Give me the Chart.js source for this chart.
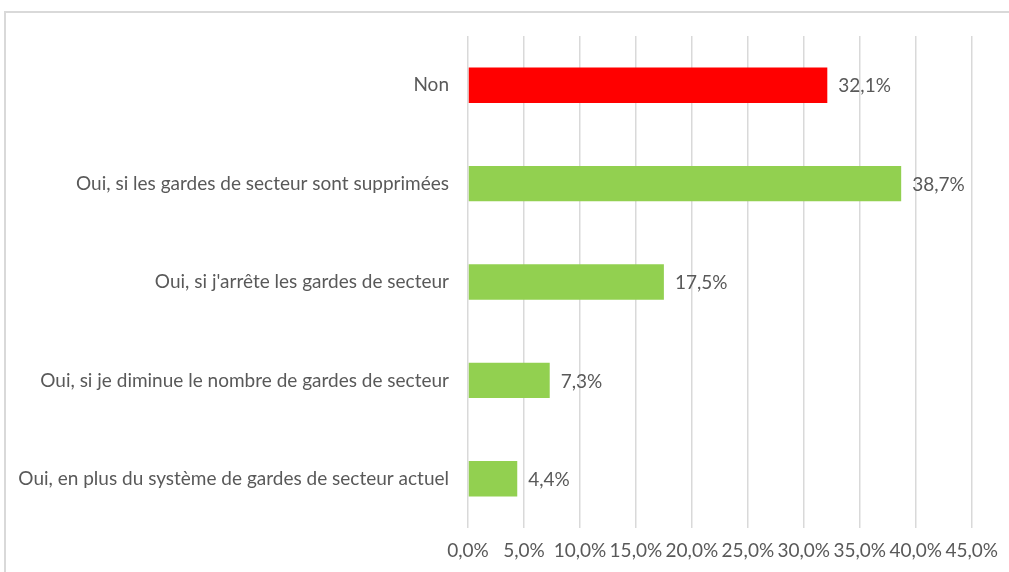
<!DOCTYPE html>
<html>
<head>
<meta charset="utf-8">
<script src="https://cdn.jsdelivr.net/npm/chart.js@4"></script>
<style>
html,body{margin:0;padding:0;background:#fff;}
#wrap{position:relative;width:1009px;height:572px;overflow:hidden;}
#box{position:absolute;left:4px;top:11px;width:1020px;height:600px;border:2px solid #d9d9d9;box-sizing:border-box;}
canvas{position:absolute;left:0;top:0;}
</style>
</head>
<body>
<div id="wrap">
<div id="box"></div>
<canvas id="c" width="1009" height="572"></canvas>
</div>
<script>
const categories = [
  "Non",
  "Oui, si les gardes de secteur sont supprimées",
  "Oui, si j'arrête les gardes de secteur",
  "Oui, si je diminue le nombre de gardes de secteur",
  "Oui, en plus du système de gardes de secteur actuel"
];
const values = [32.1, 38.7, 17.5, 7.3, 4.4];
const barColors = ["#FF0000", "#92D050", "#92D050", "#92D050", "#92D050"];
const xMin = 0, xMax = 45, xStep = 5;

const fmt = v => v.toFixed(1).replace('.', ',') + '%';
const FONT = "Lato";
const FSIZE = 19;
const TEXT = "#595959";

const valueLabels = {
  id: 'valueLabels',
  afterDatasetsDraw(chart) {
    const ctx = chart.ctx;
    const meta = chart.getDatasetMeta(0);
    ctx.save();
    ctx.font = FSIZE + "px " + FONT;
    ctx.fillStyle = TEXT;
    ctx.textAlign = 'left';
    ctx.textBaseline = 'middle';
    meta.data.forEach((bar, i) => {
      ctx.fillText(fmt(values[i]), bar.x + 11, bar.y + 1);
    });
    ctx.restore();
  }
};

new Chart(document.getElementById('c'), {
  type: 'bar',
  data: {
    labels: categories,
    datasets: [{
      data: values,
      backgroundColor: barColors,
      borderWidth: 0,
      categoryPercentage: 1,
      barPercentage: 0.36
    }]
  },
  plugins: [valueLabels],
  options: {
    indexAxis: 'y',
    responsive: false,
    animation: false,
    events: [],
    layout: { padding: { top: 36, right: 35, left: 0, bottom: 0 } },
    plugins: { legend: { display: false }, tooltip: { enabled: false } },
    scales: {
      x: {
        min: xMin, max: xMax,
        ticks: {
          stepSize: xStep,
          color: TEXT,
          font: { family: FONT, size: FSIZE },
          padding: 11,
          maxRotation: 0,
          callback: v => fmt(v)
        },
        grid: { color: '#d9d9d9', lineWidth: 1.5, drawTicks: false },
        border: { display: false },
        afterFit: s => { s.height = 44; }
      },
      y: {
        ticks: {
          color: TEXT,
          font: { family: FONT, size: FSIZE },
          padding: 19
        },
        grid: { display: false, drawTicks: false },
        border: { display: false },
        afterFit: s => { s.width = 468; }
      }
    }
  }
});
</script>
</body>
</html>
